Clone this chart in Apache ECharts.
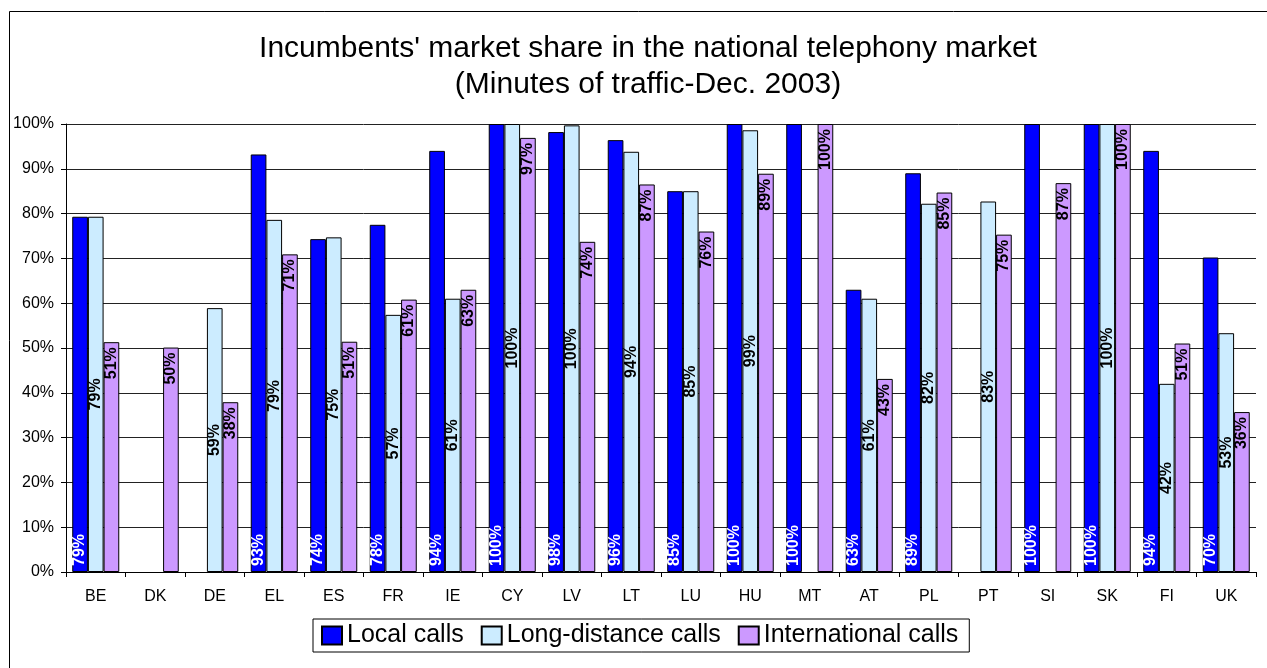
<!DOCTYPE html>
<html>
<head>
<meta charset="utf-8">
<title>Incumbents' market share</title>
<script src="https://cdn.jsdelivr.net/npm/echarts@6/dist/echarts.min.js"></script>
<style>
  html, body { margin: 0; padding: 0; background: #fff; }
  #main { width: 1267px; height: 668px; }
</style>
</head>
<body>
<div id="main"></div>
<script>
// countries (x axis)
const countries = ['BE', 'DK', 'DE', 'EL', 'ES', 'FR', 'IE', 'CY', 'LV', 'LT',
  'LU', 'HU', 'MT', 'AT', 'PL', 'PT', 'SI', 'SK', 'FI', 'UK'];
// market share in %, null = no data
const localCalls = [79.3, null, null, 93.2, 74.3, 77.5, 94.0, 100, 98.2, 96.4,
  85.0, 100, 100, 63.0, 89.0, null, 100, 100, 94.0, 70.2];
const longDistanceCalls = [79.3, null, 58.9, 78.6, 74.7, 57.4, 61.0, 100, 99.7, 93.8,
  85.0, 98.6, null, 61.0, 82.2, 82.7, null, 100, 42.0, 53.3];
const internationalCalls = [51.3, 50.1, 37.9, 70.9, 51.4, 60.8, 63.0, 96.9, 73.7, 86.5,
  76.0, 88.9, 100, 43.1, 84.7, 75.3, 86.8, 100, 51.0, 35.7];

const font = '"Liberation Sans", Arial, sans-serif';
const pct = p => Math.round(p.value) + '%';

const chart = echarts.init(document.getElementById('main'));

// common label style for the rotated value labels
function barLabel(color, position, align, distance) {
  return {
    show: true,
    position: position,
    rotate: 90,
    align: align,
    verticalAlign: 'middle',
    distance: distance,
    color: color,
    fontFamily: font,
    fontWeight: 'bold',
    fontSize: 16,
    formatter: pct
  };
}

const option = {
  animation: false,
  backgroundColor: '#fff',
  title: {
    text: "Incumbents' market share in the national telephony market\n(Minutes of traffic-Dec. 2003)",
    left: 643,
    textAlign: 'center',
    top: 26,
    textStyle: {
      fontFamily: font,
      fontWeight: 'normal',
      fontSize: 30,
      lineHeight: 36,
      color: '#000'
    }
  },
  graphic: [{
    // outer chart border (cut off on the right and bottom)
    type: 'rect',
    shape: { x: 9.5, y: 11.5, width: 1300, height: 700 },
    style: { fill: 'none', stroke: '#000', lineWidth: 1 },
    silent: true,
    z: -1
  }],
  legend: {
    bottom: 16,
    left: 313,
    itemWidth: 20,
    itemHeight: 18,
    itemGap: 17,
    padding: [4, 11, 4, 8],
    borderColor: '#000',
    borderWidth: 1,
    icon: 'rect',
    textStyle: { fontFamily: font, fontSize: 25, color: '#000' },
    data: ['Local calls', 'Long-distance calls', 'International calls']
  },
  grid: { left: 66, right: 11, top: 124, bottom: 96 },
  xAxis: {
    type: 'category',
    data: countries,
    axisLine: { lineStyle: { color: '#000' } },
    axisTick: { show: true, interval: 0, length: 5, lineStyle: { color: '#000' } },
    axisLabel: { interval: 0, margin: 17, color: '#000', fontFamily: font, fontSize: 16 }
  },
  yAxis: {
    type: 'value',
    min: 0,
    max: 100,
    interval: 10,
    axisLine: { show: true, lineStyle: { color: '#000' } },
    axisTick: { show: true, length: 5, lineStyle: { color: '#000' } },
    axisLabel: { formatter: '{value}%', color: '#000', fontFamily: font, fontSize: 16, margin: 12 },
    splitLine: { lineStyle: { color: '#222', width: 1 } }
  },
  series: [
    {
      name: 'Local calls',
      type: 'bar',
      data: localCalls,
      barGap: '0%',
      barCategoryGap: '21%',
      itemStyle: { color: '#0000FF', borderColor: '#000', borderWidth: 1 },
      label: barLabel('#fff', 'insideBottom', 'left', 6)
    },
    {
      name: 'Long-distance calls',
      type: 'bar',
      data: longDistanceCalls,
      barGap: '0%',
      barCategoryGap: '21%',
      itemStyle: { color: '#CCECFF', borderColor: '#000', borderWidth: 1 },
      label: barLabel('#000', 'inside', 'center', 0)
    },
    {
      name: 'International calls',
      type: 'bar',
      data: internationalCalls,
      barGap: '0%',
      barCategoryGap: '21%',
      itemStyle: { color: '#CC99FF', borderColor: '#000', borderWidth: 1 },
      label: barLabel('#000', 'insideTop', 'right', 5)
    }
  ]
};

chart.setOption(option);
</script>
</body>
</html>
